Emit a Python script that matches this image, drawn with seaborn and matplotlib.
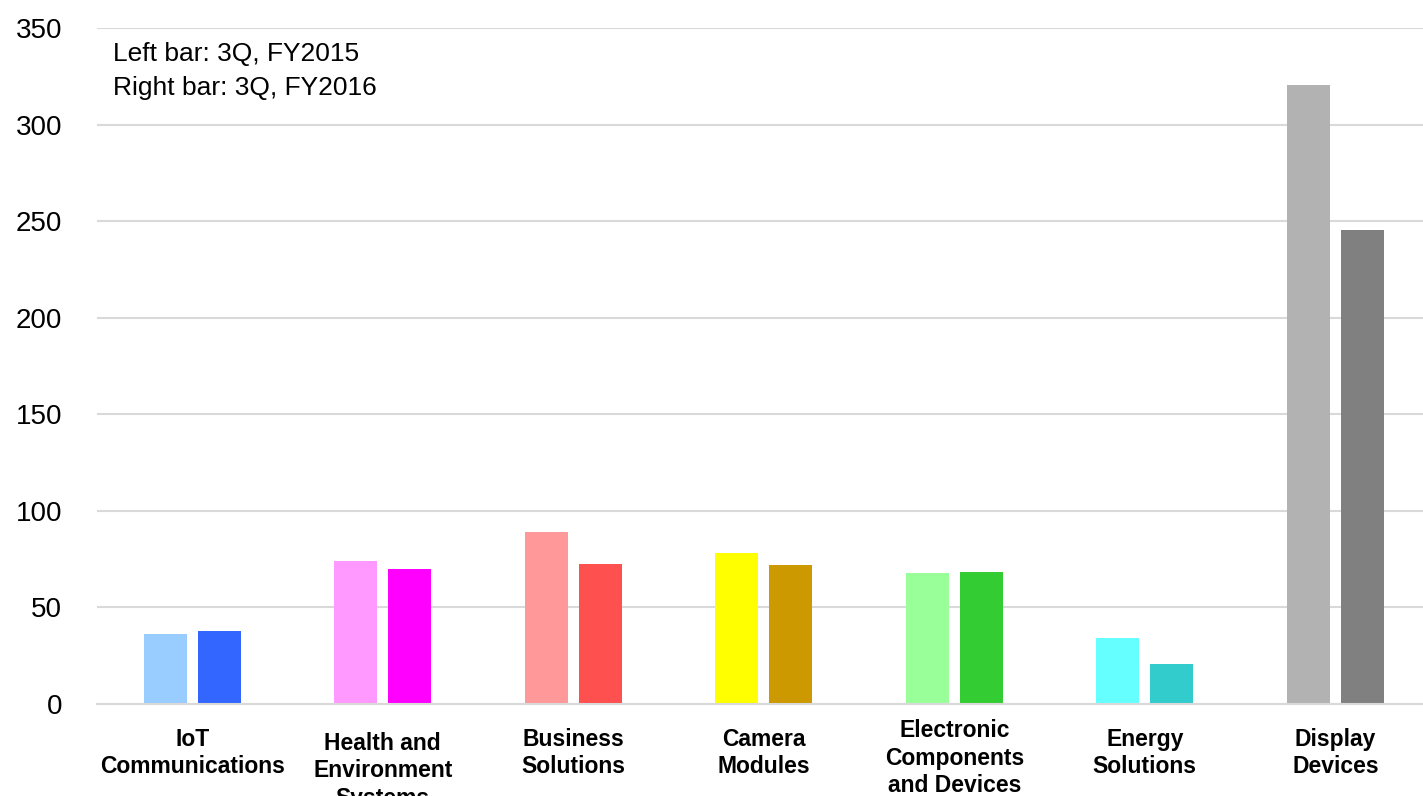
import matplotlib
matplotlib.use("Agg")
import matplotlib.pyplot as plt
import matplotlib.transforms as mtransforms
import seaborn as sns
import pandas as pd

# Segment values
categories = ["IoT\nCommunications", "Health and\nEnvironment\nSystems", "Business\nSolutions",
              "Camera\nModules", "Electronic\nComponents\nand Devices", "Energy\nSolutions",
              "Display\nDevices"]
periods = ["3Q, FY2015", "3Q, FY2016"]
fy2015 = [36.2, 74.0, 89.1, 78.2, 67.8, 34.2, 320.6]
fy2016 = [37.8, 69.9, 72.5, 72.0, 68.4, 20.7, 245.5]

light_colors = ["#99CCFF", "#FF99FF", "#FF9999", "#FFFF00", "#99FF99", "#66FFFF", "#B2B2B2"]
dark_colors = ["#3366FF", "#FF00FF", "#FF5050", "#CC9900", "#33CC33", "#33CCCC", "#808080"]
# small vertical nudges of the category labels (points), as in the original
label_shift = [0, -3, 0, 0, 6, 0, 0]

df = pd.DataFrame({
    "segment": categories * 2,
    "period": [periods[0]] * len(categories) + [periods[1]] * len(categories),
    "value": fy2015 + fy2016,
})

sns.set_style("white")
plt.rcParams["font.family"] = ["Liberation Sans", "DejaVu Sans"]
plt.rcParams["text.color"] = "black"
plt.rcParams["xtick.color"] = "black"
plt.rcParams["ytick.color"] = "black"

fig = plt.figure(figsize=(14.23, 7.96), dpi=100)
ax = fig.add_axes([97 / 1423, 92 / 796, 1 - 97 / 1423, 676 / 796])

sns.barplot(data=df, x="segment", y="value", hue="period", order=categories,
            hue_order=periods, width=0.567, gap=0.204, legend=False, ax=ax,
            saturation=1)

# each bar gets its own colour (light = last year, dark = this year)
for bar, c in zip(ax.containers[0], light_colors):
    bar.set_facecolor(c)
    bar.set_edgecolor("none")
for bar, c in zip(ax.containers[1], dark_colors):
    bar.set_facecolor(c)
    bar.set_edgecolor("none")

ax.set_ylim(0, 350)
ax.set_xlim(-0.5, 6.46)
ax.set_yticks(range(0, 351, 50))
ax.yaxis.grid(True, color="#D9D9D9", linewidth=1.5)
ax.set_axisbelow(True)
for s in ["top", "right", "left"]:
    ax.spines[s].set_visible(False)
ax.spines["bottom"].set_color("#D9D9D9")
ax.spines["bottom"].set_linewidth(1.5)
ax.tick_params(axis="y", length=0, labelsize=20, pad=25)
ax.tick_params(axis="x", length=0, labelsize=16.5, pad=17)
for lbl, dy in zip(ax.get_xticklabels(), label_shift):
    lbl.set_fontweight("bold")
    lbl.set_linespacing(1.25)
    lbl.set_transform(lbl.get_transform() +
                      mtransforms.ScaledTranslation(0, dy / 72, fig.dpi_scale_trans))
ax.set_xlabel("")
ax.set_ylabel("")

fig.text(113 / 1423, 1 - 42 / 796, "Left bar: 3Q, FY2015\nRight bar: 3Q, FY2016",
         fontsize=19, va="top", ha="left", linespacing=1.5)

fig.savefig("out.png", dpi=100)
